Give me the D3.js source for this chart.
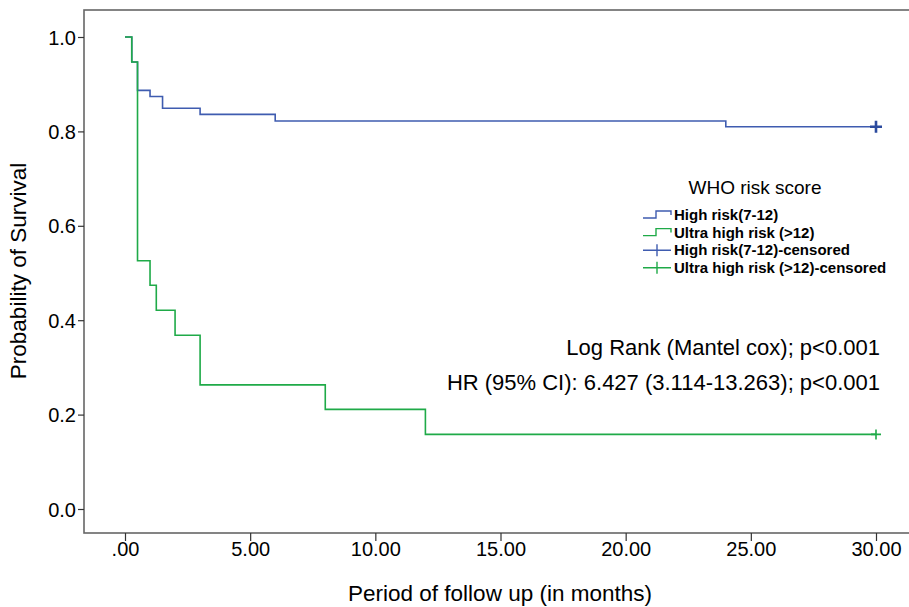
<!DOCTYPE html>
<html>
<head>
<meta charset="utf-8">
<script src="https://cdn.jsdelivr.net/npm/d3@7"></script>
<style>
  body { margin: 0; background: #fff; }
  svg { display: block; font-family: "Liberation Sans", Arial, sans-serif; }
</style>
</head>
<body>
<svg id="chart" width="909" height="607"></svg>
<script>
// Kaplan-Meier steps
var highTimes = [0, 0.27, 0.5, 1.0, 1.5, 3.0, 6.0, 24.0, 30.0];
var highSurv = [1.0, 0.947, 0.887, 0.874, 0.849, 0.836, 0.822, 0.810, 0.810];
var ultraTimes = [0, 0.27, 0.5, 1.0, 1.25, 2.0, 3.0, 8.0, 12.0, 30.0];
var ultraSurv = [1.0, 0.947, 0.526, 0.474, 0.421, 0.368, 0.263, 0.211, 0.158, 0.158];
var censorTimes = [30.0, 30.0];
var censorSurv = [0.810, 0.158];

var xTicks = [0, 5, 10, 15, 20, 25, 30];
var xTickLabels = [".00", "5.00", "10.00", "15.00", "20.00", "25.00", "30.00"];
var yTicks = [0, 0.2, 0.4, 0.6, 0.8, 1.0];
var yTickLabels = ["0.0", "0.2", "0.4", "0.6", "0.8", "1.0"];
var legendLabels = ["High risk(7-12)", "Ultra high risk (>12)", "High risk(7-12)-censored", "Ultra high risk (>12)-censored"];

var blue = "#3f5cb0", green = "#1faa48";

var svg = d3.select("#chart"),
    frameL = 84, frameT = 10, frameR = 915, frameB = 533;

var x = d3.scaleLinear().domain([0, 30]).range([125, 876]);
var y = d3.scaleLinear().domain([0, 1]).range([509, 37]);

// frame
svg.append("rect")
    .attr("x", frameL).attr("y", frameT)
    .attr("width", frameR - frameL).attr("height", frameB - frameT)
    .attr("fill", "none").attr("stroke", "#666").attr("stroke-width", 1.6);

// axes
var yAxis = d3.axisLeft(y).tickValues(yTicks)
    .tickFormat((d, i) => yTickLabels[i]).tickSize(6).tickSizeOuter(0);
var gy = svg.append("g").attr("transform", "translate(" + frameL + ",0)").call(yAxis);
gy.select(".domain").remove();
gy.selectAll("line").attr("stroke", "#333").attr("stroke-width", 1.2);
gy.selectAll("text").attr("font-size", 20).attr("fill", "#000").attr("x", -8).attr("dy", "0.35em");

var xAxis = d3.axisBottom(x).tickValues(xTicks)
    .tickFormat((d, i) => xTickLabels[i]).tickSize(8).tickSizeOuter(0);
var gx = svg.append("g").attr("transform", "translate(0," + frameB + ")").call(xAxis);
gx.select(".domain").remove();
gx.selectAll("line").attr("stroke", "#333").attr("stroke-width", 1.2);
gx.selectAll("text").attr("font-size", 20).attr("fill", "#000").attr("y", 9);

// axis titles
svg.append("text")
    .attr("transform", "translate(26,271) rotate(-90)")
    .attr("text-anchor", "middle").attr("font-size", 22.5).attr("fill", "#000")
    .text("Probability of Survival");
svg.append("text")
    .attr("x", 500).attr("y", 601)
    .attr("text-anchor", "middle").attr("font-size", 22.5).attr("fill", "#000")
    .text("Period of follow up (in months)");

// curves
var line = d3.line().x(d => x(d[0])).y(d => y(d[1])).curve(d3.curveStepAfter);

svg.append("path")
    .datum(d3.zip(highTimes, highSurv))
    .attr("d", line).attr("fill", "none").attr("stroke", blue).attr("stroke-width", 1.6);
svg.append("path")
    .datum(d3.zip(ultraTimes, ultraSurv))
    .attr("d", line).attr("fill", "none").attr("stroke", green).attr("stroke-width", 1.6);

// censor marks
var censorColor = ["#2b4a9e", green], censorSize = [6, 5], censorWidth = [2.6, 1.6];
censorTimes.forEach(function (t, i) {
    var cx = x(t), cy = y(censorSurv[i]), s = censorSize[i];
    svg.append("path")
        .attr("d", "M" + (cx - s) + "," + cy + "H" + (cx + s) + "M" + cx + "," + (cy - s) + "V" + (cy + s))
        .attr("stroke", censorColor[i]).attr("stroke-width", censorWidth[i]).attr("fill", "none");
});

// legend
svg.append("text")
    .attr("x", 755).attr("y", 194)
    .attr("text-anchor", "middle").attr("font-size", 19).attr("fill", "#000")
    .text("WHO risk score");

var legendColors = [blue, green, blue, green];
var lg = svg.append("g").selectAll("g")
    .data(legendLabels).enter().append("g")
    .attr("transform", (d, i) => "translate(643," + (215 + i * 17.6) + ")");
lg.append("path")
    .attr("d", (d, i) => i < 2 ? "M0,3H13V-4H28V0" : "M0,0H28M14,-6V6")
    .attr("fill", "none")
    .attr("stroke", (d, i) => legendColors[i])
    .attr("stroke-width", 1.4);
lg.append("text")
    .attr("x", 31).attr("y", 5)
    .attr("font-size", 15).attr("font-weight", "bold").attr("fill", "#000")
    .text(d => d);

// statistics
svg.append("text")
    .attr("x", 880).attr("y", 355)
    .attr("text-anchor", "end").attr("font-size", 22).attr("fill", "#000")
    .text("Log Rank (Mantel cox); p<0.001");
svg.append("text")
    .attr("x", 880).attr("y", 390)
    .attr("text-anchor", "end").attr("font-size", 22).attr("fill", "#000")
    .text("HR (95% CI): 6.427 (3.114-13.263); p<0.001");
</script>
</body>
</html>
